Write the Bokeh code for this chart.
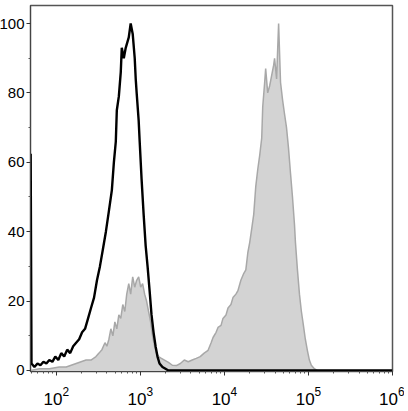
from bokeh.plotting import figure
from bokeh.models import Range1d, FixedTicker
from bokeh.embed import file_html
from bokeh.resources import INLINE

# ---- data (log10 of fluorescence intensity, event count scaled to % of max) ----
black_log = [1.695, 1.705, 1.740, 1.776, 1.811, 1.847, 1.882, 1.917, 1.953, 1.988,
             2.024, 2.059, 2.094, 2.130, 2.165, 2.201, 2.236, 2.272, 2.307, 2.342,
             2.378, 2.413, 2.449, 2.484, 2.519, 2.555, 2.590, 2.626, 2.661, 2.685,
             2.708, 2.720, 2.744, 2.767, 2.779, 2.803, 2.826, 2.838, 2.862, 2.885,
             2.909, 2.933, 2.945, 2.956, 2.980, 2.992, 3.015, 3.039, 3.063, 3.086,
             3.110, 3.133, 3.157, 3.181, 3.204, 3.228, 3.263, 3.299, 3.334, 6.0]
black_count = [62.5, 2, 1, 2, 1.5, 2.5, 2, 3, 2.5, 4,
               3, 5, 4, 6, 5, 7, 8, 9, 11, 12,
               15, 18, 21, 26, 30, 35, 40, 46, 52, 60,
               66, 75, 79, 86, 93, 90, 93, 94, 96, 100,
               97, 90, 84, 80, 72, 66, 55, 45, 36, 30,
               23, 16, 11, 7, 4, 2, 1, 0.5, 0, 0]

gray_log = [1.693, 1.799, 1.917, 2.035, 2.118, 2.177, 2.236, 2.295, 2.354, 2.413,
            2.472, 2.508, 2.543, 2.579, 2.602, 2.626, 2.649, 2.673, 2.697, 2.720,
            2.744, 2.767, 2.791, 2.815, 2.838, 2.862, 2.885, 2.909, 2.933, 2.956,
            2.980, 3.004, 3.027, 3.051, 3.074, 3.098, 3.122, 3.145, 3.169, 3.192,
            3.216, 3.251, 3.287, 3.334, 3.381, 3.429, 3.476, 3.523, 3.570, 3.617,
            3.665, 3.712, 3.759, 3.806, 3.842, 3.865, 3.901, 3.924, 3.960, 3.983,
            4.019, 4.043, 4.078, 4.102, 4.137, 4.161, 4.196, 4.231, 4.255, 4.279,
            4.302, 4.326, 4.349, 4.373, 4.397, 4.420, 4.444, 4.456, 4.479, 4.491,
            4.515, 4.538, 4.562, 4.586, 4.597, 4.621, 4.645, 4.668, 4.692, 4.715,
            4.739, 4.763, 4.786, 4.810, 4.834, 4.845, 4.869, 4.893, 4.916, 4.940,
            4.963, 4.987, 5.011, 5.034, 5.070, 5.105, 6.0]
gray_count = [0, 0.5, 0.5, 1, 1, 1.5, 2, 2.5, 3, 3,
              4, 5, 6, 8, 7, 9, 12, 10, 14, 12,
              16, 15, 19, 17, 22, 25, 22, 27, 24, 26,
              27, 24, 25, 22, 20, 17, 14, 10, 7, 5,
              4, 3.5, 3, 2.3, 1.5, 1.4, 2, 3, 2.5, 3,
              3.5, 4, 5, 5.8, 8, 9.5, 11, 12.4, 13, 15,
              16, 18, 19, 21, 22, 23, 26, 28, 29, 34,
              37, 41, 45, 53, 58, 62, 67, 76, 83, 87,
              80, 82, 85, 88, 90, 84, 100, 83, 78, 74,
              70, 64, 57, 50, 42, 37, 29, 22, 17, 13,
              9, 5.8, 3, 1.5, 0.5, 0, 0]

x_ticks = [1e2, 1e3, 1e4, 1e5, 1e6]
y_ticks = [0, 20, 40, 60, 80, 100]
y_minor = [10, 30, 50, 70, 90]

black_x = [10 ** v for v in black_log]
gray_x = [10 ** v for v in gray_log]

p = figure(width=408, height=411, x_axis_type="log",
           x_range=Range1d(10 ** 1.693, 1e6), y_range=Range1d(-0.3, 105.2),
           output_backend="svg", toolbar_location=None,
           min_border_left=31, min_border_right=12, min_border_top=5,
           min_border_bottom=40)
p.styles = {"margin-left": "-4px"}
p.background_fill_color = "white"
p.border_fill_color = "white"
p.grid.visible = False
p.outline_line_color = "#555555"
p.outline_line_width = 1.5

p.varea(x=gray_x, y1=0, y2=gray_count, fill_color="#d3d3d3")
p.line(gray_x, gray_count, line_color="#a8a8a8", line_width=1.5)
p.line(black_x, black_count, line_color="black", line_width=2.4)

minor_x = [m * 10 ** d for d in range(1, 6) for m in range(2, 10)]
p.xaxis.ticker = FixedTicker(ticks=x_ticks, minor_ticks=minor_x)
p.yaxis.ticker = FixedTicker(ticks=y_ticks, minor_ticks=y_minor)

for ax in (p.xaxis[0], p.yaxis[0]):
    ax.axis_line_color = "#444444"
    ax.axis_line_width = 1
    ax.major_tick_line_color = "#333333"
    ax.minor_tick_line_color = "#555555"
    ax.major_tick_out = 4
    ax.major_tick_in = 0
    ax.minor_tick_out = 2
    ax.minor_tick_in = 0
    ax.major_label_text_font = "Liberation Sans"
    ax.major_label_text_color = "black"
p.yaxis.major_label_text_font_size = "15px"
p.xaxis.major_label_text_font_size = "17px"
p.yaxis.major_label_standoff = 2
p.xaxis.major_label_standoff = 11

open("out.html", "w").write(file_html(p, INLINE))
